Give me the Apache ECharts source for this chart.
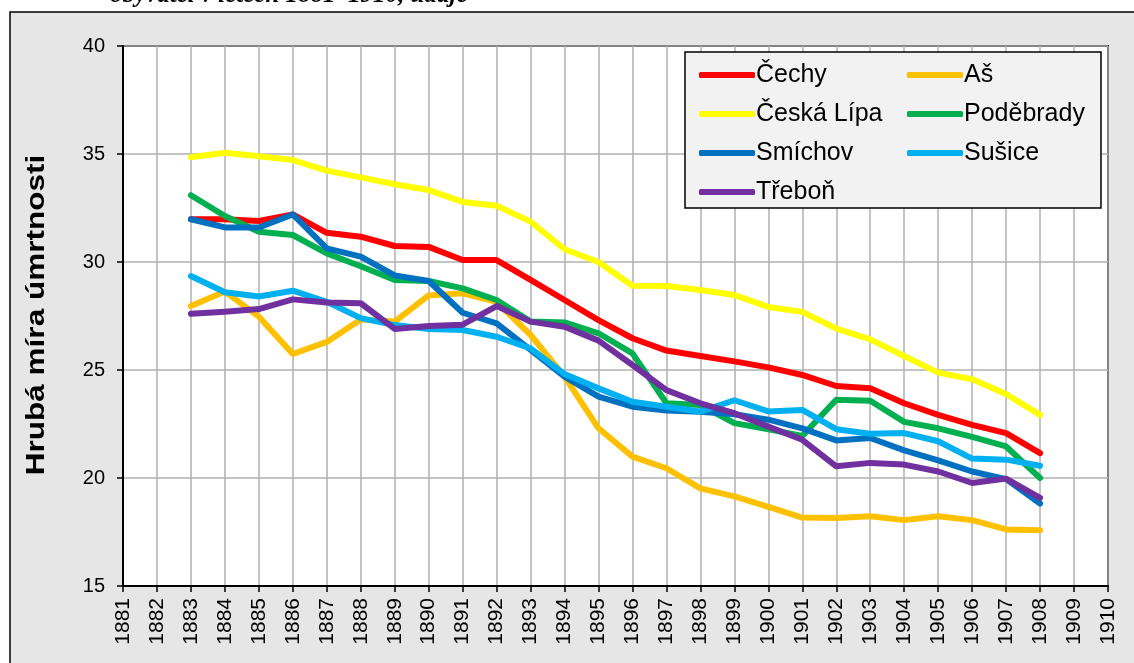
<!DOCTYPE html>
<html>
<head>
<meta charset="utf-8">
<script src="https://cdn.jsdelivr.net/npm/echarts@6/dist/echarts.min.js"></script>
<style>
  html, body { margin: 0; padding: 0; background: #fff; }
  #main { width: 1134px; height: 663px; }
</style>
</head>
<body>
<div id="main"></div>
<script>
// roky na ose x
var years = [];
for (var y = 1881; y <= 1910; y++) years.push(String(y));
var firstYear = 1883;

// hruba mira umrtnosti 1883-1908
var cechy     = [31.98, 31.98, 31.9, 32.2, 31.35, 31.17, 30.74, 30.7, 30.09, 30.09, 29.17, 28.24, 27.31, 26.47, 25.9, 25.65, 25.4, 25.12, 24.77, 24.26, 24.15, 23.46, 22.92, 22.46, 22.08, 21.15];
var as        = [27.96, 28.63, 27.47, 25.74, 26.3, 27.34, 27.24, 28.45, 28.55, 28.16, 26.62, 24.69, 22.3, 20.99, 20.45, 19.52, 19.15, 18.66, 18.17, 18.15, 18.23, 18.05, 18.23, 18.05, 17.62, 17.58];
var ceskaLipa = [34.85, 35.06, 34.9, 34.72, 34.23, 33.92, 33.6, 33.33, 32.78, 32.6, 31.87, 30.59, 30.0, 28.9, 28.89, 28.7, 28.47, 27.92, 27.69, 26.92, 26.42, 25.65, 24.88, 24.57, 23.89, 22.92];
var podebrady = [33.09, 32.13, 31.4, 31.25, 30.4, 29.8, 29.17, 29.12, 28.78, 28.24, 27.24, 27.2, 26.7, 25.77, 23.46, 23.38, 22.54, 22.26, 21.95, 23.62, 23.58, 22.6, 22.3, 21.9, 21.46, 20.0];
var smichov   = [31.98, 31.6, 31.6, 32.2, 30.63, 30.25, 29.38, 29.12, 27.65, 27.16, 25.93, 24.69, 23.77, 23.3, 23.12, 23.07, 22.95, 22.7, 22.3, 21.74, 21.85, 21.28, 20.82, 20.3, 19.95, 18.82];
var susice    = [29.35, 28.6, 28.4, 28.67, 28.16, 27.4, 27.08, 26.9, 26.85, 26.54, 26.0, 24.81, 24.15, 23.53, 23.3, 23.07, 23.6, 23.08, 23.15, 22.26, 22.05, 22.08, 21.7, 20.9, 20.85, 20.57];
var trebon    = [27.6, 27.7, 27.82, 28.27, 28.12, 28.09, 26.9, 27.04, 27.1, 27.96, 27.24, 27.0, 26.36, 25.23, 24.07, 23.46, 23.0, 22.38, 21.77, 20.54, 20.7, 20.62, 20.3, 19.77, 19.97, 19.08];

var names  = ['Čechy', 'Aš', 'Česká Lípa', 'Poděbrady', 'Smíchov', 'Sušice', 'Třeboň'];
var values = [cechy, as, ceskaLipa, podebrady, smichov, susice, trebon];
var colors = ['#ff0000', '#ffc000', '#ffff00', '#00b050', '#0070c0', '#00b0f0', '#7030a0'];

function pad(arr) {
    var out = [];
    for (var i = 0; i < years.length; i++) {
        var k = +years[i] - firstYear;
        out.push(k >= 0 && k < arr.length ? arr[k] : null);
    }
    return out;
}

var series = [];
for (var i = 0; i < names.length; i++) {
    series.push({
        name: names[i],
        type: 'line',
        data: pad(values[i]),
        showSymbol: false,
        symbol: 'none',
        lineStyle: { width: 6, color: colors[i], cap: 'round', join: 'round' },
        itemStyle: { color: colors[i] },
        emphasis: { disabled: true }
    });
}

var font = 'Liberation Sans, Arial, sans-serif';
var legendCommon = {
    orient: 'vertical',
    top: 57,
    icon: 'roundRect',
    itemWidth: 56,
    itemHeight: 6,
    itemGap: 13,
    textStyle: { fontFamily: font, fontSize: 25, color: '#000', lineHeight: 26, padding: [0, 0, 0, -4] }
};

var chart = echarts.init(document.getElementById('main'), null, { renderer: 'canvas' });
chart.setOption({
    animation: false,
    backgroundColor: '#fff',
    color: colors,
    graphic: [
        { type: 'rect', z: -10, shape: { x: 10, y: 12, width: 1140, height: 670 },
          style: { fill: '#e6e6e6', stroke: '#000', lineWidth: 1.5 } },
        // oriznuty nadpis nad grafem
        { type: 'text', z: -5, style: { x: 110, y: 8, text: 'obyvatel v letech 1881–1910, údaje',
          font: 'italic bold 25px "Liberation Serif", serif', fill: '#000', textVerticalAlign: 'bottom' } },
        // popisek osy y (v originale roztazeny)
        { type: 'text', x: 37, y: 315, rotation: Math.PI / 2, scaleX: 1.26,
          style: { x: 0, y: 0, text: 'Hrubá míra úmrtnosti',
          font: 'bold 25px "Liberation Sans", Arial, sans-serif', fill: '#000',
          textAlign: 'center', textVerticalAlign: 'middle' } },
        { type: 'rect', z: 5, shape: { x: 685, y: 52, width: 416, height: 156 },
          style: { fill: '#f2f2f2', stroke: '#000', lineWidth: 1.5 } }
    ],
    legend: [
        Object.assign({ left: 694, data: ['Čechy', 'Česká Lípa', 'Smíchov', 'Třeboň'], z: 10 }, legendCommon),
        Object.assign({ left: 902, data: ['Aš', 'Poděbrady', 'Sušice'], z: 10 }, legendCommon)
    ],
    grid: {
        left: 123, right: 26, top: 46, bottom: 77,
        show: true, backgroundColor: '#fff', borderColor: '#000', borderWidth: 2
    },
    xAxis: {
        type: 'category',
        data: years,
        boundaryGap: false,
        axisLine: { lineStyle: { color: '#000', width: 2 } },
        axisTick: { show: true, length: 6, interval: 0, lineStyle: { color: '#000', width: 1.5 } },
        axisLabel: { interval: 0, rotate: 90, margin: 12, fontFamily: font, fontSize: 21, color: '#000' },
        splitLine: { show: true, interval: 0, lineStyle: { color: '#b0b0b0', width: 1.5 } }
    },
    yAxis: {
        type: 'value',
        min: 15, max: 40, interval: 5,
        axisLine: { show: true, lineStyle: { color: '#000', width: 2 } },
        axisTick: { show: true, length: 6, lineStyle: { color: '#000', width: 1.5 } },
        axisLabel: { margin: 18, fontFamily: font, fontSize: 20, color: '#000' },
        splitLine: { show: true, lineStyle: { color: '#b0b0b0', width: 1.5 } }
    },
    series: series
});
</script>
</body>
</html>
